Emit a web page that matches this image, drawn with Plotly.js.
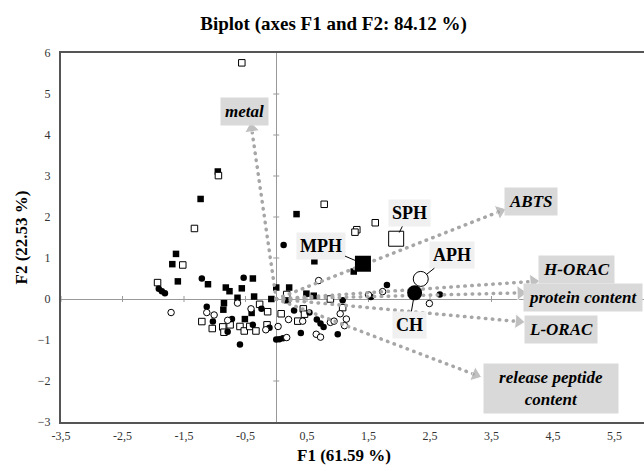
<!DOCTYPE html>
<html><head><meta charset="utf-8">
<script src="https://cdn.plot.ly/plotly-3.0.1.min.js"></script>
<style>html,body{margin:0;padding:0;background:#fff;overflow:hidden}.vecline .js-line{stroke-linecap:round}</style>
</head><body><div id="chart" style="width:644px;height:471px"></div>
<script>
// ---- data ----
// MPH samples (filled squares)
const mphX = [-0.95,-1.23,0.33,0.62,-1.63,-1.69,-1.60,-1.11,-0.82,-0.76,-0.38,-0.56,-0.63,-0.36,0.00,-0.08,0.21,-0.85,-0.86,-0.40,-0.51,1.26,0.18,0.49,0.61];
const mphY = [3.11,2.44,2.07,0.92,1.10,0.85,0.43,0.36,0.28,0.19,0.50,0.26,0.03,0.06,0.28,0.00,0.28,-0.10,-0.26,-0.34,-0.49,0.67,-0.03,0.13,0.08];
// SPH samples (open squares)
const sphX = [-0.56,-0.94,-1.33,0.78,-1.52,-1.93,1.31,1.28,1.61,0.17,-0.27,-0.14,-1.21,-1.04,-0.87,-0.85,-0.75,-0.59,-0.52,-0.43,-0.33,-0.15,0.88,1.08,0.44,0.46,0.08,0.35];
const sphY = [5.76,3.01,1.72,2.31,0.83,0.40,1.69,1.63,1.86,0.11,-0.13,-0.31,-0.55,-0.72,-0.68,-0.81,-0.63,-0.67,-0.78,-0.67,-0.78,-0.63,0.00,-0.21,-0.24,-0.37,-0.36,-0.54];
// CH samples (filled circles)
const chX = [0.12,-1.91,-1.86,-1.81,-1.21,-0.53,-1.13,-0.24,-0.72,-1.03,-0.11,-0.79,-0.38,-0.59,0.00,0.05,0.11,1.80,1.54,1.08,0.29,0.54,0.66,0.72,0.77,1.00,0.40,2.66];
const chY = [1.32,0.25,0.19,0.14,0.50,0.52,-0.19,-0.24,-0.49,-0.55,-0.70,-0.80,-0.63,-1.11,-0.99,-0.98,-0.96,0.34,0.05,-0.03,-0.28,-0.33,-0.50,-0.60,-0.68,-0.86,-0.83,0.11];
// APH samples (open circles)
const aphX = [-1.71,-1.13,-1.01,-0.63,-0.41,-0.79,-0.17,0.03,0.17,0.20,0.69,1.73,1.50,0.43,0.88,0.94,1.04,1.14,1.11,0.65,0.72,2.49];
const aphY = [-0.33,-0.33,-0.39,-0.10,-0.24,-0.52,-0.75,-0.67,-0.94,-0.50,0.45,0.18,0.10,-0.54,-0.57,-0.54,-0.36,-0.49,-0.65,-0.86,-0.93,-0.11];
// variable loadings (arrow tips)
const varNames = ['metal','ABTS','H-ORAC','protein content','L-ORAC','release peptide<br>content'];
const varX = [-0.40,3.64,4.18,3.97,3.94,3.24];
const varY = [4.16,2.14,0.43,0.15,-0.55,-1.85];
// group centroids
const groupNames = ['MPH','SPH','APH','CH'];
const centX = [1.41,1.95,2.35,2.25];
const centY = [0.86,1.47,0.49,0.15];
// ticks
const xTickVals = [-3.5,-2.5,-1.5,-0.5,0.5,1.5,2.5,3.5,4.5,5.5];
const yTickVals = [-3,-2,-1,0,1,2,3,4,5,6];

// ---- layout constants (label placement) ----
const varLabelPos = [[-0.52,4.57,'center',null],[4.15,2.37,'center',null],[4.89,0.71,'center',null],[4.02,0.03,'left',null],[4.63,-0.75,'center',null],[4.46,-2.19,'center',126]];
const groupLabelPos = [[0.72,1.30],[2.16,2.10],[2.85,1.08],[2.16,-0.63]];
const groupSymbols = ['square','square-open','circle-open','circle'];

const serif = '"Liberation Serif", "Times New Roman", serif';
const arrowColor = '#a6a6a6';
const traces = [];

function pts(x, y, sym, size) {
  const open = sym.indexOf('open') >= 0;
  return {x, y, type:'scatter', mode:'markers', hoverinfo:'skip',
    marker:{symbol: open ? sym.replace('-open','') : sym, size,
      color: open ? '#fff' : '#000', line:{color:'#000', width: open ? 1 : 0}}};
}
traces.push(pts(mphX, mphY, 'square', 6.5));
traces.push(pts(sphX, sphY, 'square-open', 6.5));
traces.push(pts(chX, chY, 'circle', 6.5));
traces.push(pts(aphX, aphY, 'circle-open', 6.5));

for (let i = 0; i < varX.length; i++) {
  traces.push({x:[0, varX[i]], y:[0, varY[i]], type:'scatter', mode:'lines+markers', hoverinfo:'skip',
    line:{color:arrowColor, width:3.5, dash:'0.5px,6.5px'},
    marker:{symbol:'triangle-up', size:[0,13], angleref:'previous', color:arrowColor}});
}
for (let i = 0; i < centX.length; i++) {
  traces.push(pts([centX[i]], [centY[i]], groupSymbols[i], i === 0 ? 16 : 15));
}

const annotations = [];
for (let i = 0; i < varNames.length; i++) {
  const p = varLabelPos[i];
  const a = {x:p[0], y:p[1], xref:'x', yref:'y', text:varNames[i], showarrow:false,
    xanchor:p[2], yanchor:'middle', bgcolor:'#d9d9d9', borderpad:4,
    font:{family:serif, size:17, weight:'bold', style:'italic', color:'#000'}};
  if (p[3]) a.width = p[3];
  annotations.push(a);
}
for (let i = 0; i < groupNames.length; i++) {
  const p = groupLabelPos[i];
  annotations.push({x:centX[i], y:centY[i], xref:'x', yref:'y', ax:p[0], ay:p[1], axref:'x', ayref:'y',
    text:groupNames[i], showarrow:true, arrowhead:0, arrowwidth:1, arrowcolor:'#000', standoff:7,
    bgcolor:'#f0f0f0', borderpad:3,
    font:{family:serif, size:18, weight:'bold', color:'#000'}});
}
annotations.push({xref:'paper', yref:'paper', x:0.485, y:-0.092, text:'F1 (61.59 %)', showarrow:false,
  xanchor:'center', yanchor:'middle', font:{family:serif, size:17, weight:'bold', color:'#000'}});
annotations.push({xref:'paper', yref:'paper', x:-0.067, y:0.5, text:'F2 (22.53 %)', showarrow:false, textangle:-90,
  xanchor:'center', yanchor:'middle', font:{family:serif, size:17, weight:'bold', color:'#000'}});

const shapes = [];
yTickVals.filter(v => v !== 0 && v !== -3 && v !== 6).forEach(v => shapes.push({type:'line', layer:'below', xref:'x', yref:'y',
  xsizemode:'pixel', xanchor:0, x0:-3, x1:3, y0:v, y1:v, line:{color:'#999', width:1}}));
xTickVals.forEach(v => shapes.push({type:'line', layer:'below', xref:'x', yref:'y',
  ysizemode:'pixel', yanchor:0, y0:-3, y1:3, x0:v, x1:v, line:{color:'#999', width:1}}));

const layout = {
  width:644, height:471, showlegend:false, paper_bgcolor:'#fff', plot_bgcolor:'#fff',
  margin:{l:61, r:0, t:53, b:49},
  title:{text:'Biplot (axes F1 and F2: 84.12 %)', x:0.518, xref:'container', xanchor:'center',
    y:0.951, yref:'container', yanchor:'middle', font:{family:serif, size:19, weight:'bold', color:'#000'}},
  xaxis:{range:[-3.5,5.98], tickvals:xTickVals, ticktext:xTickVals.map(v => String(v).replace('.', ',')),
    showgrid:false, zeroline:true, zerolinecolor:'#999', zerolinewidth:1,
    showline:true, mirror:true, linecolor:'#555', linewidth:2, ticks:'', ticklabelstandoff:2,
    tickfont:{family:serif, size:12, color:'#333'}},
  yaxis:{range:[-3,6], tickvals:yTickVals, showgrid:false, zeroline:true, zerolinecolor:'#999', zerolinewidth:1,
    showline:true, mirror:false, linecolor:'#555', linewidth:2, ticks:'', ticklabelstandoff:6,
    tickfont:{family:serif, size:12, color:'#333'}},
  annotations, shapes
};
Plotly.newPlot('chart', traces, layout, {staticPlot:true}).then(() => {
  document.querySelectorAll('.scatterlayer .trace').forEach((g, i) => {
    if (i >= 4 && i < 4 + varX.length) g.classList.add('vecline');
  });
});
</script></body></html>
